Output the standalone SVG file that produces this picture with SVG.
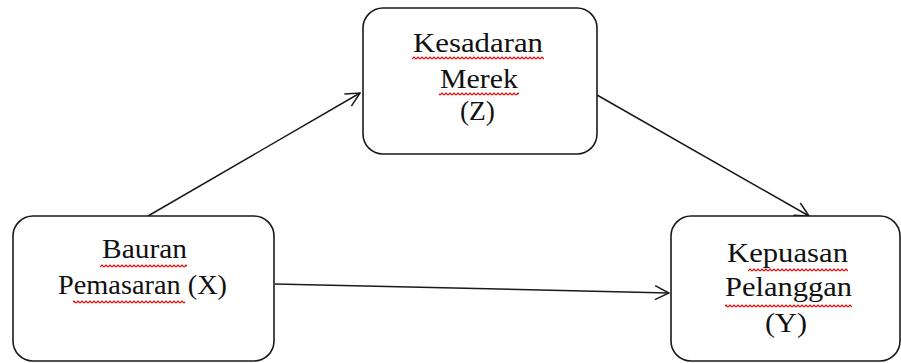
<svg xmlns="http://www.w3.org/2000/svg" width="901" height="363" viewBox="0 0 901 363">
<style>
.box{fill:#fff;stroke:#1a1a1a;stroke-width:1.6}
.lbl{font-family:"Liberation Serif","Times New Roman",serif;font-size:28px;fill:#111}
.conn{fill:none;stroke:#1a1a1a;stroke-width:1.5}
.wv{fill:url(#wave)}
</style>
<defs>
<marker id="arr" viewBox="0 0 16 16" refX="15" refY="8" markerWidth="16" markerHeight="16" markerUnits="userSpaceOnUse" orient="auto">
<path d="M1,1 L15,8 L1,15" fill="none" stroke="#1a1a1a" stroke-width="1.5"/>
</marker>
<pattern id="wave" width="4" height="4" patternUnits="userSpaceOnUse">
<path d="M0,3 L2,1 L4,3" fill="none" stroke="#e00000" stroke-width="1.2"/>
</pattern>
</defs>
<rect width="901" height="363" fill="#fff"/>
<g id="connectors">
<path class="conn" d="M148,216 L360,93" marker-end="url(#arr)"/>
<path class="conn" d="M597,95 L809,216" marker-end="url(#arr)"/>
<path class="conn" d="M275,284 L669,293" marker-end="url(#arr)"/>
</g>
<g id="node-z">
<rect class="box" x="363" y="8" width="234" height="146" rx="20"/>
<text class="lbl" x="413" y="52" textLength="130" lengthAdjust="spacingAndGlyphs">Kesadaran</text>
<text class="lbl" x="440" y="88" textLength="78" lengthAdjust="spacingAndGlyphs">Merek</text>
<text class="lbl" x="460" y="120" textLength="35" lengthAdjust="spacingAndGlyphs">(Z)</text>
<rect class="wv" x="412" y="56" width="132" height="4"/>
<rect class="wv" x="439" y="92" width="80" height="4"/>
</g>
<g id="node-x">
<rect class="box" x="13" y="216" width="261" height="145" rx="20"/>
<text class="lbl" x="102" y="258" textLength="85" lengthAdjust="spacingAndGlyphs">Bauran</text>
<text class="lbl" x="58" y="294" textLength="169" lengthAdjust="spacingAndGlyphs">Pemasaran (X)</text>
<rect class="wv" x="100" y="264" width="87" height="4"/>
<rect class="wv" x="73" y="300" width="112" height="4"/>
</g>
<g id="node-y">
<rect class="box" x="671" y="216" width="229" height="145" rx="20"/>
<text class="lbl" x="727" y="262" textLength="121" lengthAdjust="spacingAndGlyphs">Kepuasan</text>
<text class="lbl" x="725" y="296" textLength="127" lengthAdjust="spacingAndGlyphs">Pelanggan</text>
<text class="lbl" x="765" y="332" textLength="42" lengthAdjust="spacingAndGlyphs">(Y)</text>
<rect class="wv" x="748" y="268" width="100" height="4"/>
<rect class="wv" x="725" y="304" width="127" height="4"/>
</g>
</svg>
